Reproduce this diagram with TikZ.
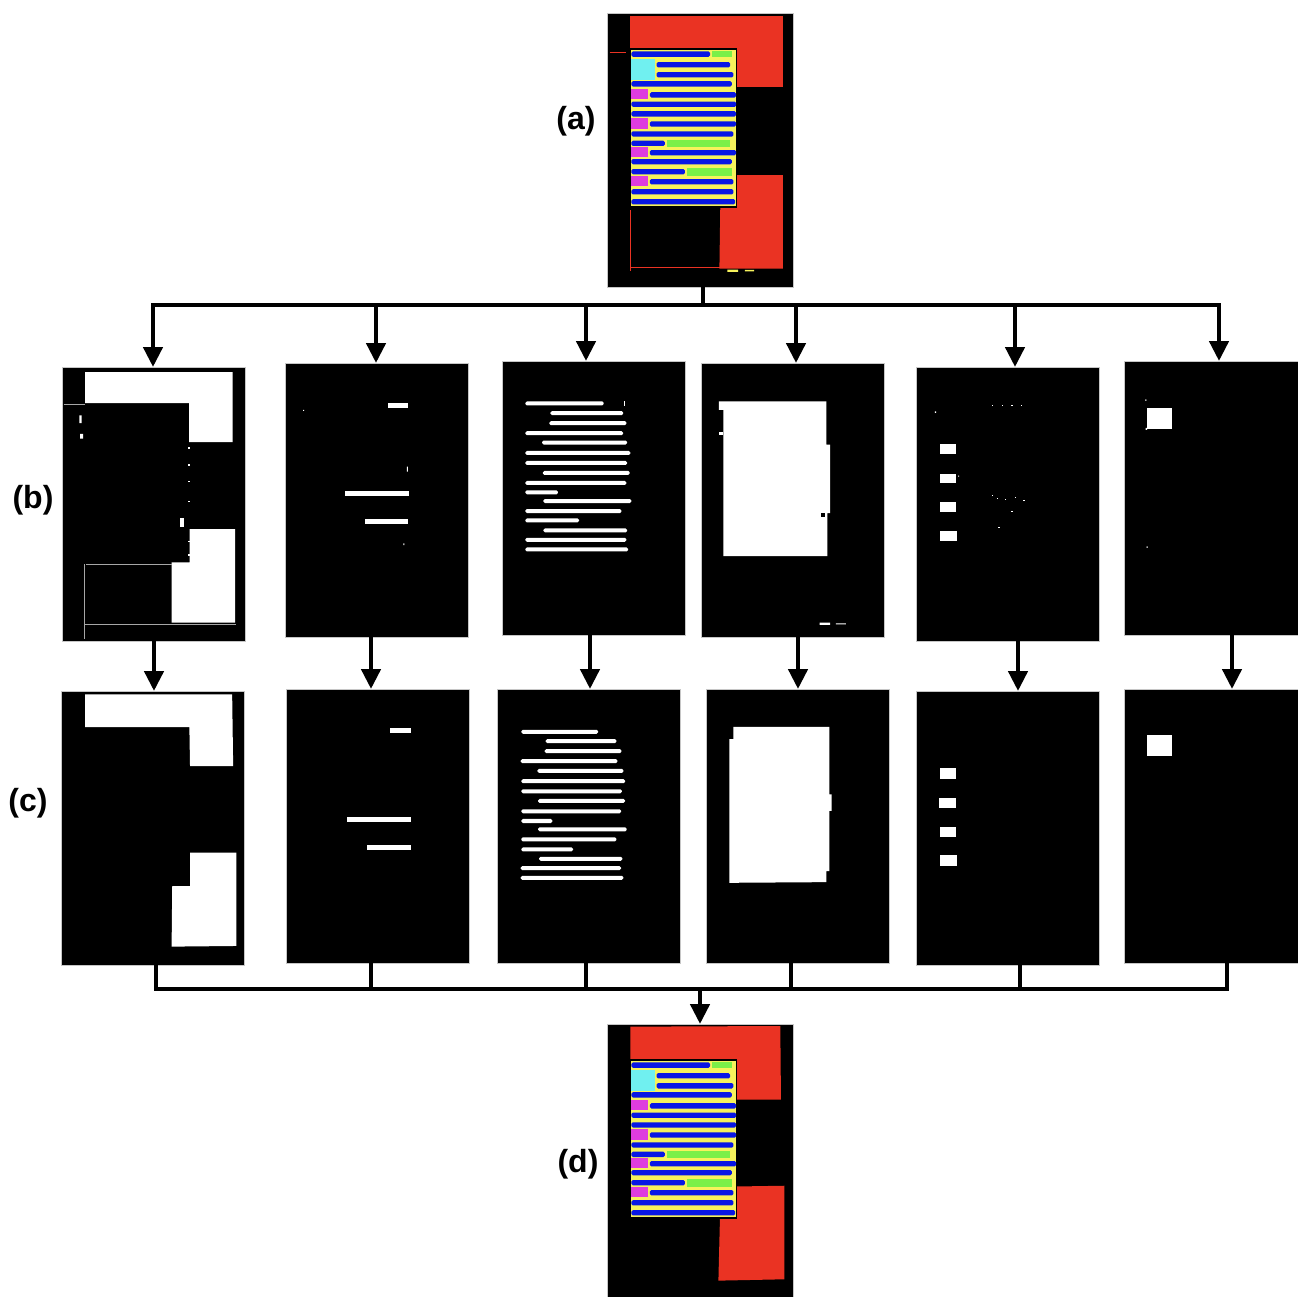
\documentclass[tikz,border=0pt]{standalone}
\usepackage{fontspec}
\setmainfont{Liberation Sans}
\usetikzlibrary{arrows.meta}
\definecolor{segred}{RGB}{234,51,35}
\definecolor{segyellow}{RGB}{246,242,92}
\definecolor{segblue}{RGB}{8,22,228}
\definecolor{seggreen}{RGB}{122,240,72}
\definecolor{segcyan}{RGB}{112,240,240}
\definecolor{segmag}{RGB}{222,60,222}
\tikzset{
  panel/.style={draw=gray!45, line width=0.8pt, fill=black, inner sep=0pt, outer sep=0pt,
    anchor=north west, minimum width=183pt, minimum height=274pt},
  widepanel/.style={panel, minimum width=186pt},
  inpanel/.style={shift={(#1.north west)}, x=0.32914pt, y=-0.33415pt},
  inwide/.style={shift={(#1.north west)}, x=0.33453pt, y=-0.33415pt},
  speck/.style={gray!70, line width=0.5pt},
  bus/.style={line width=4.5pt, black},
  tipshape/.tip={Triangle[width=19pt,length=20pt]},
  arr/.style={bus, -tipshape},
  lab/.style={font=\fontsize{32}{36}\selectfont\bfseries, inner sep=0pt},
}
\def\ColorLines{123/73/308,155/148/368,185/148/378,212/73/373,245/128/386,273/73/386,302/73/386,332/128/386,362/73/378,390/73/173,418/128/386,445/73/373,475/73/233,505/128/378,535/73/378,565/73/383}
\def\RawLines{127/71/309,156/147/368,186/144/378,216/71/368,244/122/380,275/71/390,305/71/380,335/124/388,365/71/378,393/71/170,419/126/393,449/71/363,477/71/234,507/126/380,535/71/378,564/71/383}
\def\CleanLines{128/74/307,156/148/363,186/145/378,216/72/366,245/123/384,276/74/389,306/74/379,335/125/389,366/74/377,395/74/168,420/125/394,450/74/363,480/74/231,508/128/381,536/72/377,565/72/384}
\newcommand\DrawLines[3]{\foreach \pY/\pA/\pB in #1 {\fill[#2,rounded corners=1.5pt] (\pA,\pY-#3) rectangle (\pB,\pY+#3);}}
\newcommand\ColorDoc{%
  \filldraw[fill=segyellow, draw=black, line width=1.5pt] (70,108) rectangle (387,581);
  \DrawLines{\ColorLines}{segblue}{8}
  \fill[seggreen] (313,115) rectangle (373,131);
  \fill[seggreen] (180,380) rectangle (368,400);
  \fill[seggreen] (238,465) rectangle (373,487);
  \fill[segcyan] (73,138) rectangle (143,200);
  \foreach \sy in {227,315,400,488} {\fill[segmag] (73,\sy) rectangle (123,\sy+31);}
}
\begin{document}
\begin{tikzpicture}[x=1pt, y=-1pt]
\useasboundingbox (0,0) rectangle (1298,1297);
\fill[white] (0,0) rectangle (1298,1297);

% ---------- (a) ----------
\node[widepanel] (a) at (607,13) {};
\begin{scope}[inwide=a]
  \fill[segred] (70,8) rectangle (526,222);
  \fill[segred] (340,485) -- (526,485) -- (526,765) -- (336,765) -- cycle;
  \draw[segred, line width=0.6pt] (70,590) -- (70,772) (70,762) -- (338,762) (8,118) -- (58,118);
  \fill[segyellow] (360,768) rectangle (392,775) (412,769) rectangle (440,773);
  \ColorDoc
\end{scope}
\node[lab] (la) at (576,121) {(a)};

% ---------- row (b) ----------
\node[panel] (b1) at (62,367) {};
\node[panel] (b2) at (285,363) {};
\node[panel] (b3) at (502,361) {};
\node[panel] (b4) at (701,363) {};
\node[panel] (b5) at (916,367) {};
\node[panel] (b6) at (1124,361) {};
\node[lab] (lb) at (33,500) {(b)};

\begin{scope}[inpanel=b1]
  \fill[white] (70,15) -- (518,15) -- (518,225) -- (386,225) -- (386,108) -- (70,108) -- cycle;
  \fill[white] (388,485) -- (526,485) -- (526,765) -- (333,765) -- (333,585) -- (388,585) -- cycle;
  \draw[speck] (5,110) -- (70,110) (73,590) -- (333,590) (70,770) -- (530,770) (68,590) -- (68,815);
  \fill[white] (53,145) rectangle (60,168) (55,200) rectangle (64,214);
  \fill[white] (358,452) rectangle (370,478);
  \foreach \dy in {240,290,340,400,520,560} {\fill[white] (384,\dy) rectangle (388,\dy+5);}
\end{scope}

\begin{scope}[inpanel=b2]
  \fill[white] (313,119) rectangle (374,134);
  \fill[white] (182,383) rectangle (376,398);
  \fill[white] (243,467) rectangle (374,482);
  \fill[white] (55,140) rectangle (58,143) (370,310) rectangle (373,325) (360,540) rectangle (363,545);
\end{scope}

\begin{scope}[inpanel=b3]
  \DrawLines{\RawLines}{white}{6}
  \fill[white] (372,120) rectangle (375,135);
\end{scope}

\begin{scope}[inpanel=b4]
  \fill[white] (54,115) -- (381,115) -- (381,244) -- (392,244) -- (392,449) -- (384,449)
     -- (384,578) -- (68,578) -- (68,140) -- (54,140) -- cycle;
  \fill[white] (56,205) rectangle (68,214);
  \fill[black] (365,448) rectangle (378,460);
  \fill[white] (360,777) rectangle (392,784) (410,779) rectangle (440,782);
\end{scope}

\begin{scope}[inpanel=b5]
  \fill[white] (73,230) rectangle (122,260);
  \fill[white] (73,320) rectangle (122,348);
  \fill[white] (73,405) rectangle (122,435);
  \fill[white] (73,492) rectangle (124,522);
  \fill[white] (57,133) rectangle (61,137) (128,325) rectangle (131,328);
  \foreach \sx/\sy in {231/113,260/113,290/113,318/113,230/382,245/392,270/395,300/388,326/397,290/430,250/480}
    {\fill[white] (\sx,\sy) rectangle (\sx+4,\sy+3);}
\end{scope}

\begin{scope}[inpanel=b6]
  \fill[white] (71,142) rectangle (147,202);
  \fill[white] (65,115) rectangle (68,119) (66,200) rectangle (70,206) (69,555) rectangle (72,559);
\end{scope}

% ---------- row (c) ----------
\node[panel] (c1) at (61,691) {};
\node[panel] (c2) at (286,689) {};
\node[panel] (c3) at (497,689) {};
\node[panel] (c4) at (706,689) {};
\node[panel] (c5) at (916,691) {};
\node[panel] (c6) at (1124,689) {};
\node[lab] (lc) at (28,803) {(c)};

\begin{scope}[inpanel=c1]
  \fill[white] (73,10) -- (520,10) -- (523,225) -- (392,225) -- (390,108) -- (73,108) -- cycle;
  \fill[white] (392,484) -- (533,484) -- (533,763) -- (336,765) -- (338,584) -- (392,584) -- cycle;
\end{scope}

\begin{scope}[inpanel=c2]
  \fill[white] (315,118) rectangle (379,131);
  \fill[white] (184,382) rectangle (379,397);
  \fill[white] (245,466) rectangle (379,481);
\end{scope}

\begin{scope}[inpanel=c3]
  \DrawLines{\CleanLines}{white}{6}
\end{scope}

\begin{scope}[inpanel=c4]
  \fill[white] (83,113) -- (375,113) -- (375,315) -- (382,315) -- (382,365) -- (375,365)
     -- (375,545) -- (366,545) -- (366,578) -- (71,580) -- (71,150) -- (83,150) -- cycle;
\end{scope}

\begin{scope}[inpanel=c5]
  \fill[white] (73,230) rectangle (122,262);
  \fill[white] (71,320) rectangle (122,350);
  \fill[white] (73,407) rectangle (122,437);
  \fill[white] (73,492) rectangle (124,525);
\end{scope}

\begin{scope}[inpanel=c6]
  \fill[white] (69,138) rectangle (147,201);
\end{scope}

% ---------- (d) ----------
\node[widepanel] (d) at (607,1024) {};
\begin{scope}[inwide=d]
  \fill[segred] (70,8) -- (518,6) -- (520,226) -- (70,226) -- cycle;
  \fill[segred] (340,487) -- (530,484) -- (530,764) -- (333,768) -- cycle;
  \ColorDoc
\end{scope}
\node[lab] (ld) at (578,1164) {(d)};

% ---------- connectors ----------
\coordinate (ta) at (703,305);
\coordinate (t1) at (153,305);
\coordinate (t2) at (376,305);
\coordinate (t3) at (586,305);
\coordinate (t4) at (796,305);
\coordinate (t5) at (1015,305);
\coordinate (t6) at (1219,305);
\draw[bus] (a.south -| ta) -- (ta);
\draw[bus, tipshape-tipshape] (t1 |- b1.north) |- (t6) -- (t6 |- b6.north);
\foreach \i in {2,...,5} {\draw[arr] (t\i) -- (t\i |- b\i.north);}

\coordinate (m1) at (154,0);
\coordinate (m2) at (371,0);
\coordinate (m3) at (590,0);
\coordinate (m4) at (798,0);
\coordinate (m5) at (1018,0);
\coordinate (m6) at (1232,0);
\foreach \i in {1,...,6} {\draw[arr] (m\i |- b\i.south) -- (m\i |- c\i.north);}

\coordinate (k1) at (156,989);
\coordinate (k2) at (371,989);
\coordinate (k3) at (586,989);
\coordinate (k4) at (791,989);
\coordinate (k5) at (1020,989);
\coordinate (k6) at (1227,989);
\coordinate (kd) at (700,989);
\draw[bus] (k1 |- c1.south) |- (k6) -- (k6 |- c6.south);
\foreach \i in {2,...,5} {\draw[bus] (k\i |- c\i.south) -- (k\i);}
\draw[arr] (kd) -- (kd |- d.north);
\end{tikzpicture}
\end{document}
